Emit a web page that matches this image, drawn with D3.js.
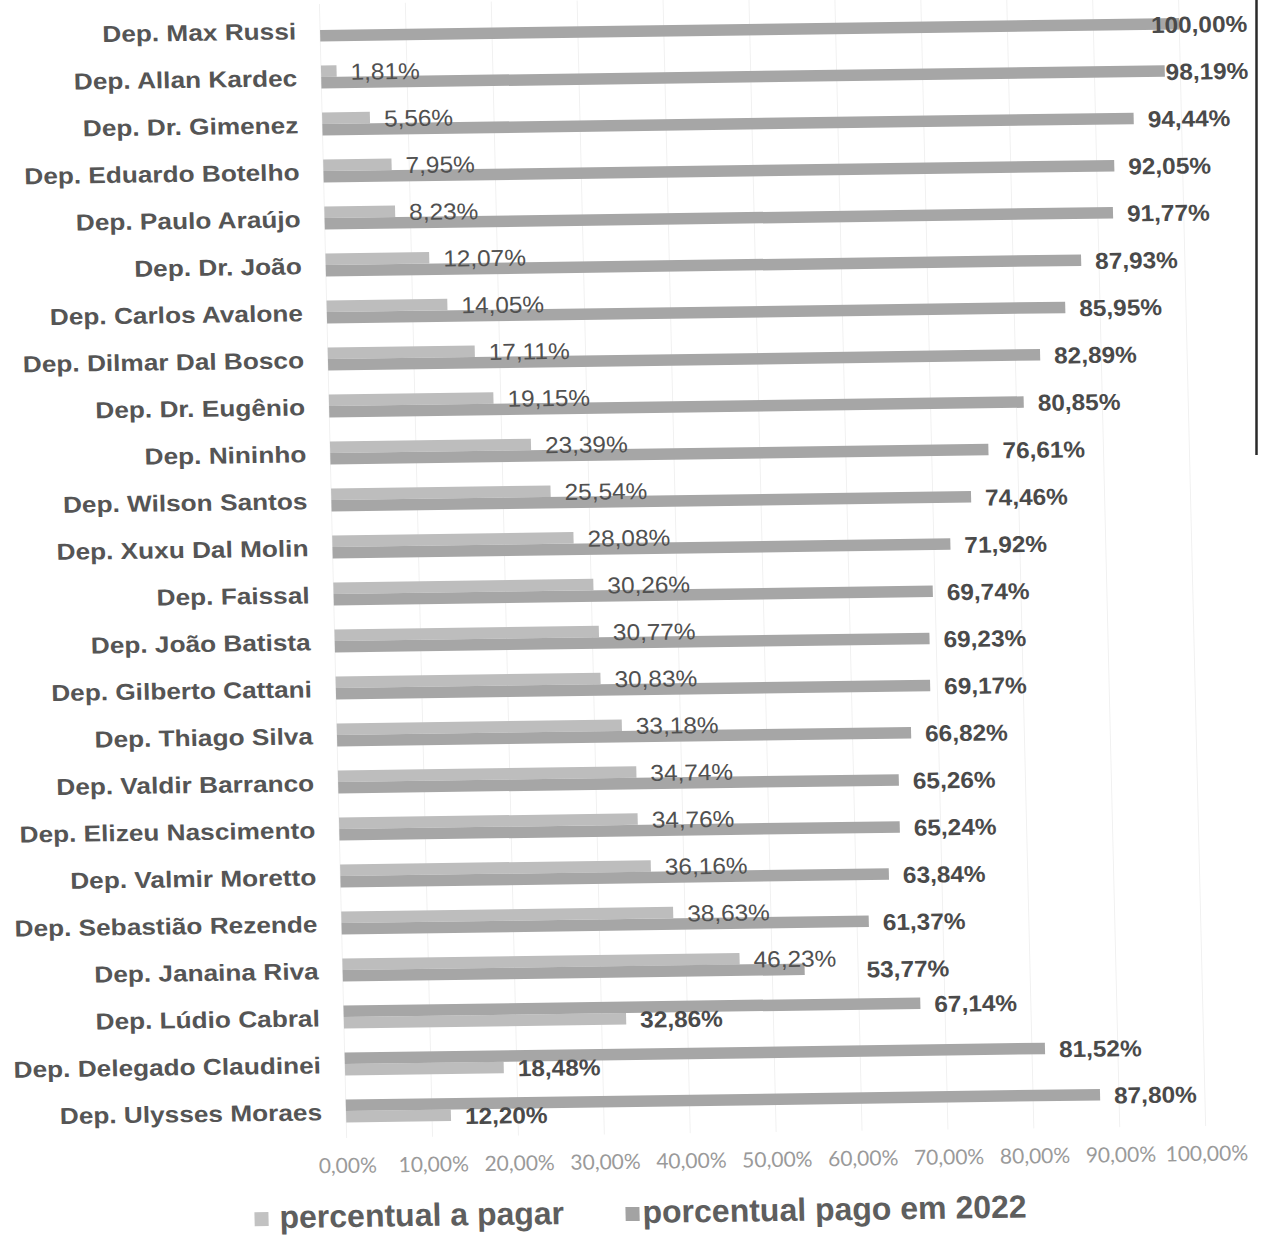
<!DOCTYPE html>
<html>
<head>
<meta charset="utf-8">
<script src="https://cdn.jsdelivr.net/npm/d3@7"></script>
<style>
html, body { margin: 0; padding: 0; background: #ffffff; }
svg { display: block; }
</style>
</head>
<body>
<script>
// ---------- data ----------
const categories = [
  "Dep. Max Russi", "Dep. Allan Kardec", "Dep. Dr. Gimenez", "Dep. Eduardo Botelho",
  "Dep. Paulo Araújo", "Dep. Dr. João", "Dep. Carlos Avalone", "Dep. Dilmar Dal Bosco",
  "Dep. Dr. Eugênio", "Dep. Nininho", "Dep. Wilson Santos", "Dep. Xuxu Dal Molin",
  "Dep. Faissal", "Dep. João Batista", "Dep. Gilberto Cattani", "Dep. Thiago Silva",
  "Dep. Valdir Barranco", "Dep. Elizeu Nascimento", "Dep. Valmir Moretto",
  "Dep. Sebastião Rezende", "Dep. Janaina Riva", "Dep. Lúdio Cabral",
  "Dep. Delegado Claudinei", "Dep. Ulysses Moraes"
];
const percentualAPagar = [
  0, 1.81, 5.56, 7.95, 8.23, 12.07, 14.05, 17.11, 19.15, 23.39, 25.54, 28.08,
  30.26, 30.77, 30.83, 33.18, 34.74, 34.76, 36.16, 38.63, 46.23, 32.86, 18.48, 12.20
];
const porcentualPago2022 = [
  100, 98.19, 94.44, 92.05, 91.77, 87.93, 85.95, 82.89, 80.85, 76.61, 74.46, 71.92,
  69.74, 69.23, 69.17, 66.82, 65.26, 65.24, 63.84, 61.37, 53.77, 67.14, 81.52, 87.80
];
const seriesNames = ["percentual a pagar", "porcentual pago em 2022"];
// rows where the "pago" bar sits above the "a pagar" bar in the original
const pagoOnTop = ["Dep. Lúdio Cabral", "Dep. Delegado Claudinei", "Dep. Ulysses Moraes"];
const tickValues = [0, 10, 20, 30, 40, 50, 60, 70, 80, 90, 100];

// ---------- setup ----------
const W = 1261, H = 1237;
const colorAPagar = "#bdbdbd";
const colorPago = "#a6a6a6";
const ptBR = d3.formatLocale({ decimal: ",", thousands: ".", grouping: [3], currency: ["R$", ""] });
const fmt = v => ptBR.format(".2f")(v) + "%";

const svg = d3.select("body").append("svg")
  .attr("width", W).attr("height", H)
  .style("font-family", "'Liberation Sans', Arial, sans-serif");
svg.append("rect").attr("width", W).attr("height", H).attr("fill", "#ffffff");

// slight skew like the scanned page
const shearX = 0.024, tiltY = -0.014, ox = 320, oy = 28;
const g = svg.append("g")
  .attr("transform", `translate(${ox},${oy}) matrix(1,${tiltY},${shearX},1,0,0) translate(${-ox},${-oy})`);

const x = d3.scaleLinear().domain([0, 100]).range([320, 1179]);
const y = d3.scaleBand().domain(categories).range([6.5, 1134.5]);
const sub = d3.scaleBand().domain(["top", "bottom"]).range([-11.5, 11.5]);

const rows = categories.map((c, i) => ({
  cat: c,
  aPagar: percentualAPagar[i],
  pago: porcentualPago2022[i],
  pagoTop: pagoOnTop.includes(c)
}));

// gridlines
g.append("g").selectAll("line").data(tickValues).join("line")
  .attr("x1", d => x(d)).attr("x2", d => x(d))
  .attr("y1", 4).attr("y2", 1138)
  .attr("stroke", "#f1f1f1").attr("stroke-width", 1);

// category labels
const labelSX = 1.14;
g.append("g").selectAll("text").data(rows).join("text")
  .attr("transform", d => `translate(296,${y(d.cat) + y.bandwidth() / 2 + 9}) scale(${labelSX},1)`)
  .attr("text-anchor", "end")
  .attr("font-size", 23).attr("font-weight", "bold")
  .attr("fill", "#555555")
  .text(d => d.cat);

// bars
const barH = sub.bandwidth();
const rowG = g.append("g").selectAll("g").data(rows).join("g")
  .attr("transform", d => `translate(0,${y(d.cat) + y.bandwidth() / 2})`);

const posAPagar = d => d.pagoTop ? "bottom" : "top";
const posPago = d => d.pagoTop ? "top" : "bottom";

rowG.append("rect")
  .attr("x", x(0)).attr("y", d => sub(posAPagar(d)))
  .attr("width", d => x(d.aPagar) - x(0)).attr("height", barH)
  .attr("fill", colorAPagar);
rowG.append("rect")
  .attr("x", x(0)).attr("y", d => sub(posPago(d)))
  .attr("width", d => x(d.pago) - x(0)).attr("height", barH)
  .attr("fill", colorPago);

// value labels
const valSX = 1.06, gap = 14, rightLimit = 1247;
rowG.each(function (d) {
  const r = d3.select(this);
  let lightEnd = null, lightStart = null;
  if (d.aPagar > 0) {
    const t = r.append("text")
      .attr("font-size", 23)
      .attr("font-weight", d.pagoTop ? "bold" : "normal")
      .attr("fill", d.pagoTop ? "#4a4a4a" : "#505050")
      .text(fmt(d.aPagar));
    const w = t.node().getComputedTextLength() * valSX;
    let sx = Math.min(x(d.aPagar) + gap, rightLimit - w);
    const cy = sub(posAPagar(d)) + barH / 2 + 9;
    t.attr("transform", `translate(${sx},${cy}) scale(${valSX},1)`);
    lightStart = sx; lightEnd = sx + w;
  }
  const t2 = r.append("text")
    .attr("font-size", 23).attr("font-weight", "bold")
    .attr("fill", "#4a4a4a")
    .text(fmt(d.pago));
  const w2 = t2.node().getComputedTextLength() * valSX;
  let sx2 = x(d.pago) + gap;
  if (lightEnd !== null && lightStart < sx2 + w2 && sx2 < lightEnd + 30) sx2 = lightEnd + 30;
  sx2 = Math.min(sx2, rightLimit - w2);
  const cy2 = sub(posPago(d)) + barH / 2 + 9;
  t2.attr("transform", `translate(${sx2},${cy2}) scale(${valSX},1)`);
});

// x axis
const axisG = g.append("g").attr("transform", "translate(0,1158)")
  .call(d3.axisBottom(x).tickValues(tickValues).tickSize(0).tickPadding(0).tickFormat(fmt));
axisG.select(".domain").remove();
axisG.selectAll("text")
  .attr("font-family", "Lato, 'Open Sans', sans-serif")
  .attr("font-size", 21)
  .attr("fill", "#9a9a9a");

// legend
const legend = g.append("g").selectAll("g").data(seriesNames).join("g")
  .attr("transform", (d, i) => `translate(${i === 0 ? 226 : 597},0)`);
legend.append("rect")
  .attr("x", 0).attr("y", 1211).attr("width", 14).attr("height", 14)
  .attr("fill", (d, i) => i === 0 ? "#c2c2c2" : "#a3a3a3");
legend.append("text")
  .attr("x", (d, i) => i === 0 ? 25 : 17).attr("y", 1227)
  .attr("font-size", 32).attr("font-weight", "bold")
  .attr("fill", "#5e5e5e")
  .text(d => d);

// right border of the scanned chart frame
svg.append("line")
  .attr("x1", 1256.5).attr("x2", 1256.5).attr("y1", 0).attr("y2", 455)
  .attr("stroke", "#2a2a2a").attr("stroke-width", 2.5);
</script>
</body>
</html>
